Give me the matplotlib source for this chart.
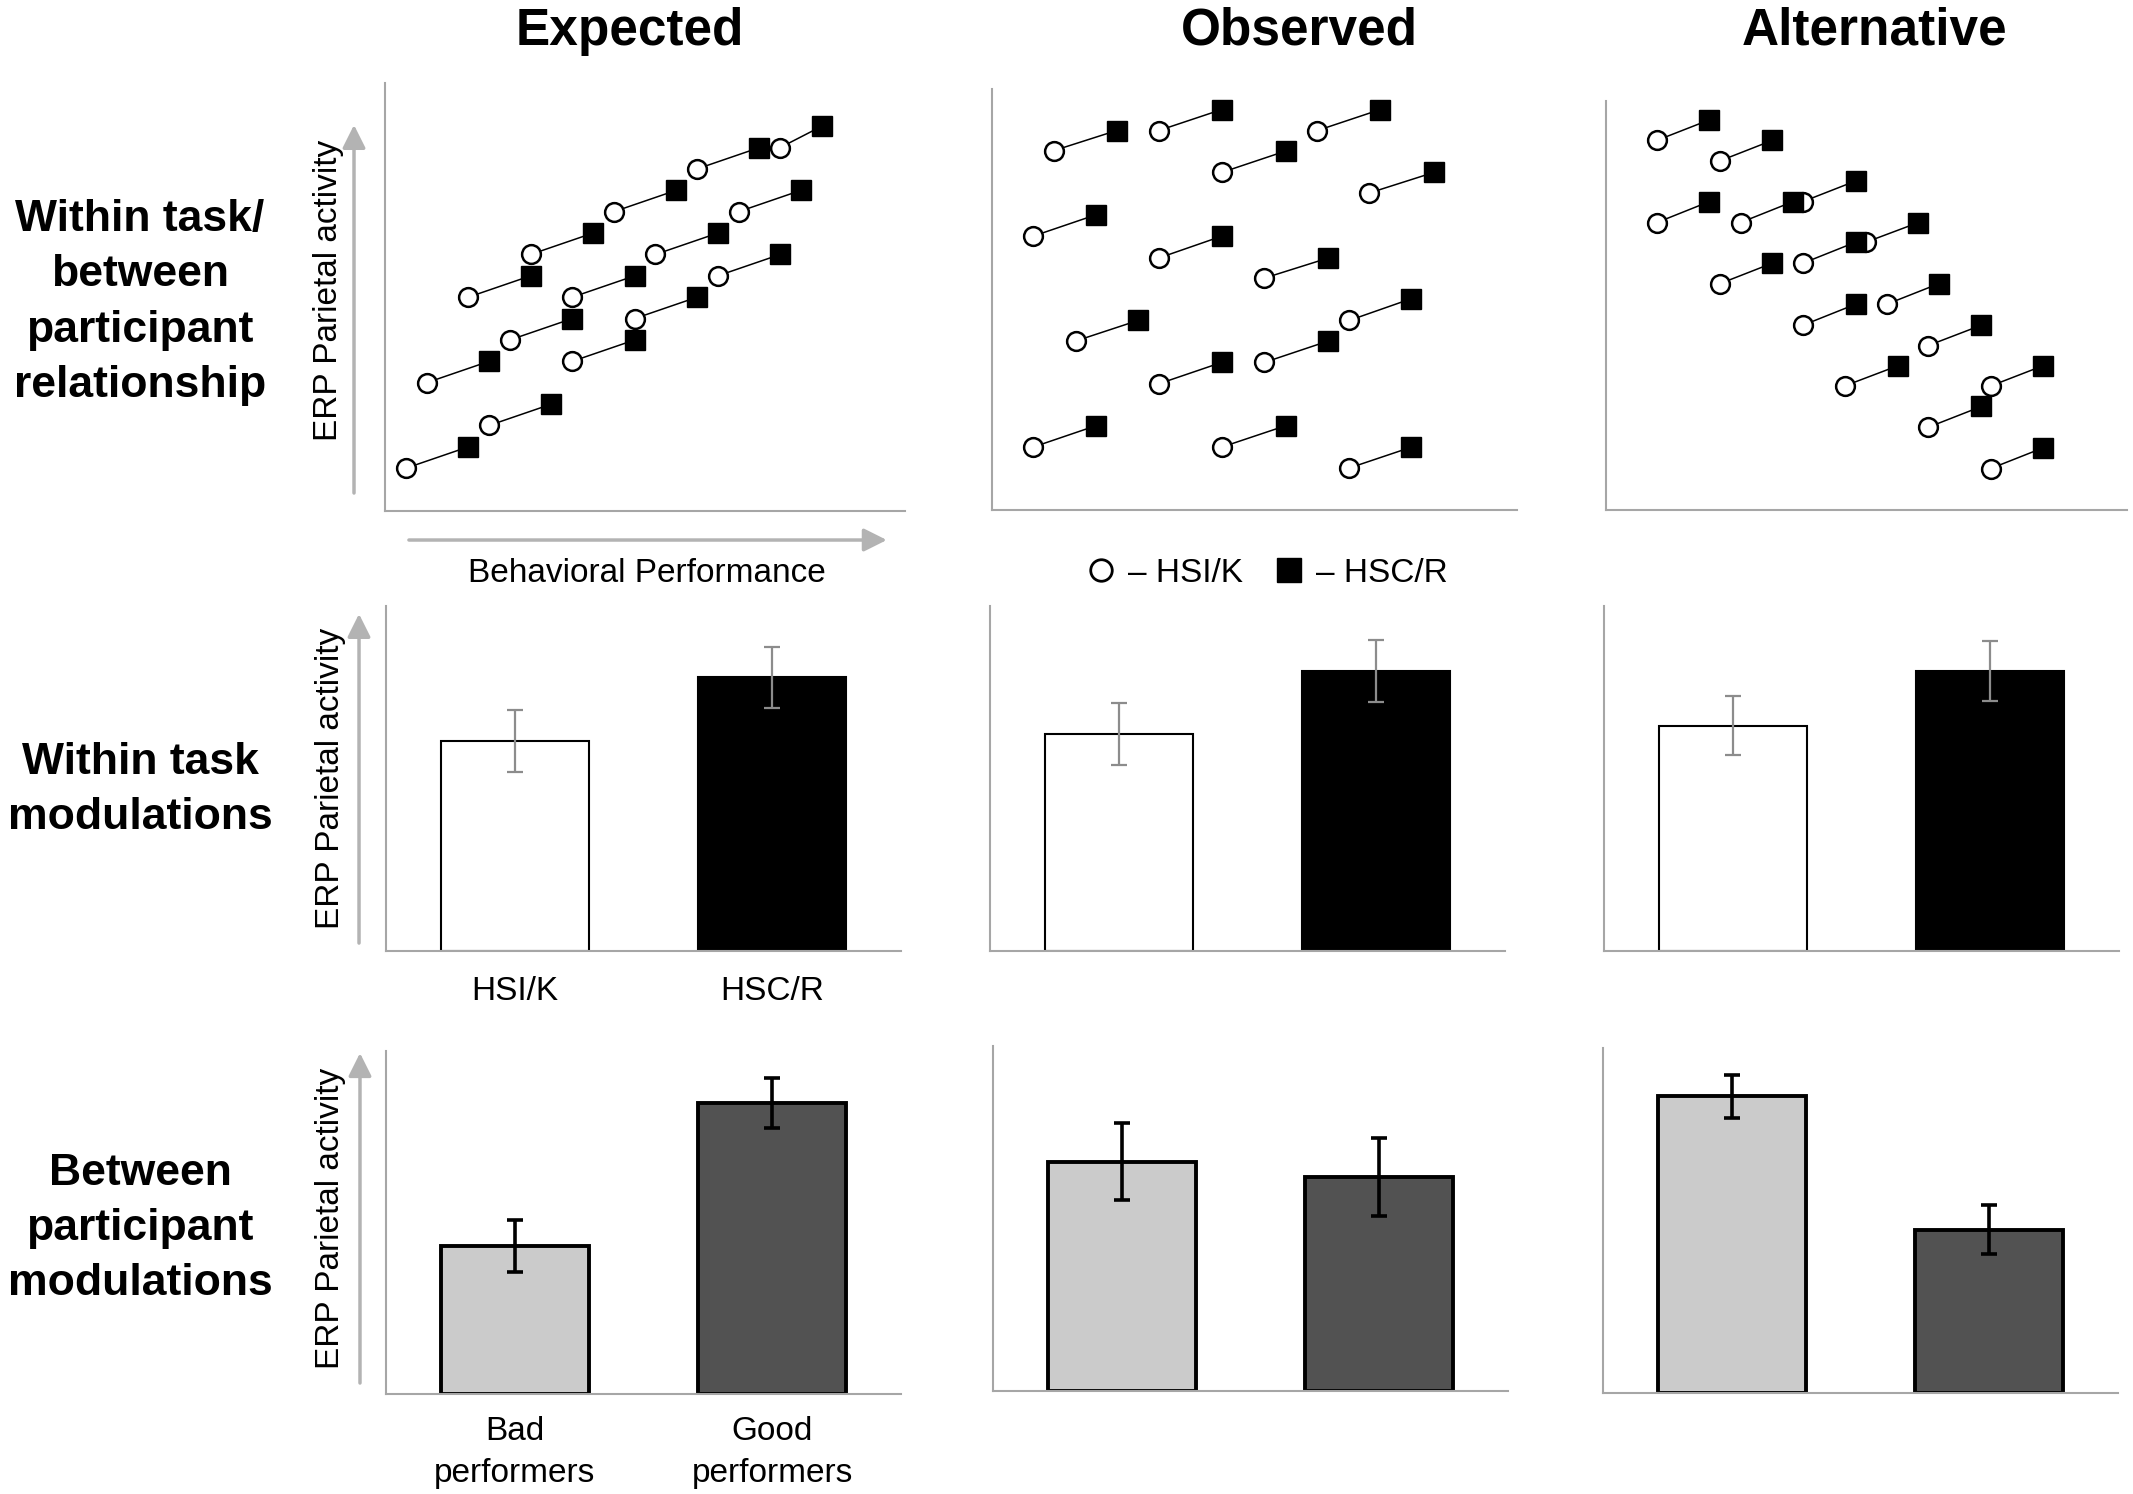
import matplotlib
matplotlib.use('Agg')
import matplotlib.pyplot as plt
from matplotlib.lines import Line2D

plt.rcParams['font.family'] = ['Liberation Sans', 'DejaVu Sans']

# ---- data ----
col_titles = ['Expected', 'Observed', 'Alternative']
row_titles = ['Within task/\nbetween\nparticipant\nrelationship',
              'Within task\nmodulations',
              'Between\nparticipant\nmodulations']
cond_labels = ['HSI/K', 'HSC/R']
group_labels = ['Bad\nperformers', 'Good\nperformers']

# row 1: each participant = one HSI/K circle joined to one HSC/R square
exp_hsi_x = [16, 28, 44, 60, 76, 8, 24, 36, 52, 68, 4, 20, 36, 48, 64]
exp_hsi_y = [50, 60, 70, 80, 85, 30, 40, 50, 60, 70, 10, 20, 35, 45, 55]
exp_hsc_x = [28, 40, 56, 72, 84, 20, 36, 48, 64, 80, 16, 32, 48, 60, 76]
exp_hsc_y = [55, 65, 75, 85, 90, 35, 45, 55, 65, 75, 15, 25, 40, 50, 60]

obs_hsi_x = [11.9, 32.1, 62.6, 44.2, 72.6, 7.9, 32.1, 52.4, 16.1, 68.7, 52.4, 32.1, 7.9, 44.2, 68.7]
obs_hsi_y = [84.0, 88.7, 88.7, 78.9, 74.1, 64.0, 58.9, 54.2, 39.5, 44.3, 34.5, 29.5, 14.7, 14.7, 9.8]
obs_hsc_x = [24.0, 44.2, 74.7, 56.5, 85.0, 20.0, 44.2, 64.7, 28.1, 80.7, 64.7, 44.2, 20.0, 56.5, 80.7]
obs_hsc_y = [88.7, 93.6, 93.6, 83.9, 78.9, 69.0, 64.0, 58.9, 44.3, 49.4, 39.5, 34.5, 19.7, 19.7, 14.7]

alt_hsi_x = [9.8, 21.9, 37.9, 9.8, 25.9, 50.0, 21.9, 37.9, 37.9, 54.0, 61.9, 45.9, 61.9, 74.0, 74.0]
alt_hsi_y = [86.4, 81.6, 72.1, 67.2, 67.2, 62.6, 52.9, 57.7, 43.2, 48.1, 38.4, 29.0, 19.3, 29.0, 9.7]
alt_hsc_x = [19.9, 32.0, 48.0, 19.9, 36.0, 60.1, 32.0, 48.0, 48.0, 64.0, 72.2, 56.1, 72.2, 84.0, 84.0]
alt_hsc_y = [91.2, 86.4, 76.9, 72.1, 72.1, 67.2, 57.7, 62.6, 48.1, 52.9, 43.2, 33.7, 24.2, 33.7, 14.5]

# row 2: within task modulations (HSI/K, HSC/R)
within_exp = [61.0, 79.3]
within_exp_err = [9.0, 8.8]
within_obs = [62.9, 81.2]
within_obs_err = [9.0, 9.0]
within_alt = [65.3, 81.2]
within_alt_err = [8.5, 8.6]

# row 3: between participant modulations (bad, good performers)
between_exp = [43.1, 84.8]
between_exp_err = [7.5, 7.2]
between_obs = [66.5, 62.0]
between_obs_err = [11.1, 11.3]
between_alt = [86.0, 47.3]
between_alt_err = [6.3, 7.1]

# ---- layout (pixel boxes: left, top, width, height) ----
W, H = 2133, 1494
fig = plt.figure(figsize=(W / 100, H / 100), dpi=100)


def add_ax(left, top, w, h):
    ax = fig.add_axes([left / W, 1 - (top + h) / H, w / W, h / H])
    for s in ['top', 'right']:
        ax.spines[s].set_visible(False)
    for s in ['left', 'bottom']:
        ax.spines[s].set_color('#a6a6a6')
        ax.spines[s].set_linewidth(1.5)
    ax.set_xticks([])
    ax.set_yticks([])
    return ax


def axis_arrow(ax, start, end):
    ax.annotate('', xy=end, xytext=start, xycoords='axes fraction',
                annotation_clip=False,
                arrowprops=dict(arrowstyle='-|>,head_length=0.7,head_width=0.35',
                                mutation_scale=20, color='#b3b3b3', lw=2.5,
                                shrinkA=0, shrinkB=0))


def erp_label(ax, x, y):
    ax.text(x, y, 'ERP Parietal activity', transform=ax.transAxes,
            rotation=90, ha='center', va='center', fontsize=24)


# row 1 scatter panels
scatter_boxes = [(385, 83, 520, 428), (992, 89, 525, 421), (1606, 101, 521, 409)]
scatter_lims = [(100, 100.1), (101, 98.4), (100.2, 95.6)]
scatter_data = [(exp_hsi_x, exp_hsi_y, exp_hsc_x, exp_hsc_y),
                (obs_hsi_x, obs_hsi_y, obs_hsc_x, obs_hsc_y),
                (alt_hsi_x, alt_hsi_y, alt_hsc_x, alt_hsc_y)]

scatter_axes = []
for box, lim, (cx, cy, sx, sy) in zip(scatter_boxes, scatter_lims, scatter_data):
    ax = add_ax(*box)
    ax.set_xlim(0, lim[0])
    ax.set_ylim(0, lim[1])
    for i in range(len(cx)):
        ax.plot([cx[i], sx[i]], [cy[i], sy[i]], color='black', lw=1.1)
        ax.plot(cx[i], cy[i], 'o', ms=13.5, mfc='white', mec='black', mew=1.8)
        ax.plot(sx[i], sy[i], 's', ms=14, mfc='black', mec='black', mew=1)
    scatter_axes.append(ax)

ax = scatter_axes[0]
axis_arrow(ax, (-0.0596, 0.042), (-0.0596, 0.902))
axis_arrow(ax, (0.046, -0.0678), (0.965, -0.0678))
erp_label(ax, -0.108, 0.515)
ax.text(0.504, -0.147, 'Behavioral Performance', transform=ax.transAxes,
        ha='center', va='center', fontsize=24)

# legend between rows 1 and 2
handles = [Line2D([], [], ls='none', marker='o', ms=15.5, mfc='white', mec='black', mew=2),
           Line2D([], [], ls='none', marker='s', ms=17, mfc='black', mec='black')]
fig.legend(handles, ['– ' + c for c in cond_labels], loc='center',
           bbox_to_anchor=(1266 / W, 1 - 573 / H), ncol=2, frameon=False,
           fontsize=24, handlelength=1.0, handletextpad=0.3, columnspacing=0.9)

# row 2 bars
within_boxes = [(386, 606, 515, 345), (990, 606, 515, 345), (1604, 606, 515, 345)]
within_data = [(within_exp, within_exp_err), (within_obs, within_obs_err),
               (within_alt, within_alt_err)]
for k, (box, (means, errs)) in enumerate(zip(within_boxes, within_data)):
    ax = add_ax(*box)
    ax.set_xlim(-0.5, 1.5)
    ax.set_ylim(0, 100)
    ax.bar([0, 1], means, width=0.575, color=['white', 'black'],
           edgecolor='black', linewidth=1.5)
    ax.errorbar([0, 1], means, yerr=errs, fmt='none', ecolor='#8c8c8c',
                elinewidth=1.6, capsize=6, capthick=1.6)
    if k == 0:
        ax.set_xticks([0, 1])
        ax.set_xticklabels(cond_labels, fontsize=24)
        ax.tick_params(axis='x', length=0, pad=18)
        axis_arrow(ax, (-0.0524, 0.023), (-0.0524, 0.977))
        erp_label(ax, -0.107, 0.501)

# row 3 bars
between_boxes = [(386, 1051, 515, 343), (993, 1046, 515, 345), (1603, 1048, 515, 345)]
between_data = [(between_exp, between_exp_err), (between_obs, between_obs_err),
                (between_alt, between_alt_err)]
for k, (box, (means, errs)) in enumerate(zip(between_boxes, between_data)):
    ax = add_ax(*box)
    ax.set_xlim(-0.5, 1.5)
    ax.set_ylim(0, 100)
    ax.bar([0, 1], means, width=0.575, color=['#cbcbcb', '#525252'],
           edgecolor='black', linewidth=2.8)
    ax.errorbar([0, 1], means, yerr=errs, fmt='none', ecolor='black',
                elinewidth=2.6, capsize=6, capthick=2.6)
    if k == 0:
        ax.set_xticks([0, 1])
        ax.set_xticklabels(group_labels, fontsize=24, linespacing=1.45)
        ax.tick_params(axis='x', length=0, pad=16)
        axis_arrow(ax, (-0.0505, 0.032), (-0.0505, 0.994))
        erp_label(ax, -0.107, 0.513)

# column and row headings
for x, t in zip([629.6, 1299.5, 1875], col_titles):
    fig.text(x / W, 1 - 31 / H, t, ha='center', va='center',
             fontsize=37, fontweight='bold')
for y, t in zip([302.5, 790, 1228.5], row_titles):
    fig.text(140 / W, 1 - y / H, t, ha='center', va='center',
             fontsize=32, fontweight='bold', linespacing=1.45)

fig.savefig('out.png', dpi=100)
